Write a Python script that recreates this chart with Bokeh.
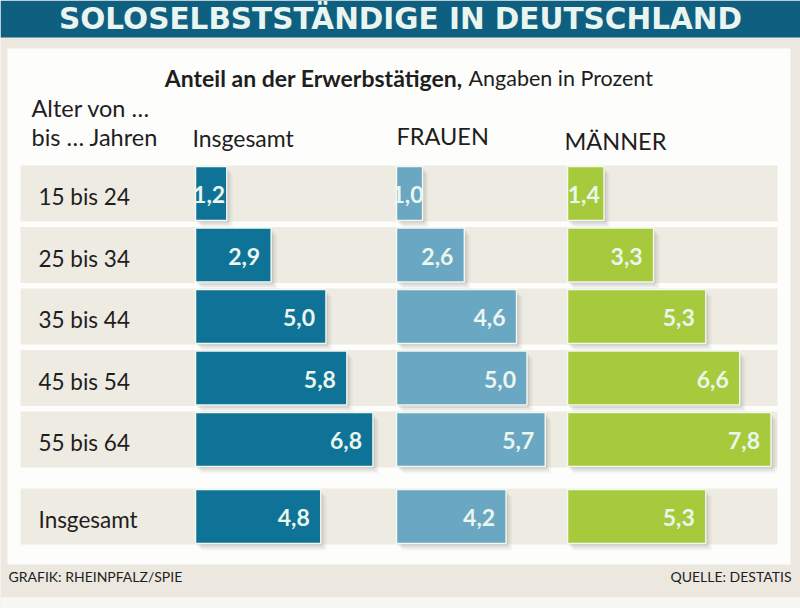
from bokeh.plotting import figure
from bokeh.models import Range1d
from bokeh.core.properties import value
from bokeh.embed import file_html
from bokeh.resources import INLINE

# --- data: share of solo self-employed among all employed persons, in percent ---
age_groups = ["15 bis 24", "25 bis 34", "35 bis 44", "45 bis 54", "55 bis 64", "Insgesamt"]
insgesamt = [1.2, 2.9, 5.0, 5.8, 6.8, 4.8]
frauen = [1.0, 2.6, 4.6, 5.0, 5.7, 4.2]
maenner = [1.4, 3.3, 5.3, 6.6, 7.8, 5.3]
series_names = ["Insgesamt", "FRAUEN", "MÄNNER"]
series_values = [insgesamt, frauen, maenner]

title_text = "SOLOSELBSTSTÄNDIGE IN DEUTSCHLAND"
subtitle_bold = "Anteil an der Erwerbstätigen,"
subtitle_regular = "Angaben in Prozent"
row_header = ["Alter von …", "bis … Jahren"]
credit_left = "GRAFIK: RHEINPFALZ/SPIE"
credit_right = "QUELLE: DESTATIS"

# --- layout ---
W, H = 800, 608
PX_PER_PCT = 26.1          # horizontal scale: pixels per percentage point
X0_PX = 195                # where the first column's bars start


def ux(px):
    """Convert a horizontal pixel position into percentage-point data units."""
    return (px - X0_PX) / PX_PER_PCT


def base(y_px, size):
    """Anchor y for a text whose baseline should sit at y_px (svg text offset)."""
    return y_px - 0.43 * size


col_starts = [ux(195), ux(396), ux(567)]
bar_colors = ["#0f7398", "#6aa7c2", "#a7ca3c"]
row_centers = [193, 254.5, 316, 377.5, 439, 516]
BAND_H = 56
BAR_H = 54

SANS = value("Lato")
INK = "#1e1e1e"
BEIGE = "#ece8df"

p = figure(width=W, height=H, output_backend="svg", toolbar_location=None,
           x_range=Range1d(ux(0), ux(W)), y_range=Range1d(H, 0),
           min_border=0, outline_line_color=None,
           background_fill_color=BEIGE, border_fill_color=BEIGE)
p.axis.visible = False
p.grid.visible = False

# page structure: title bar, white panel, credit strip
p.quad(left=[ux(0)], right=[ux(W)], top=[0], bottom=[37], fill_color="#0f5f80", line_color=None)
p.quad(left=[ux(7)], right=[ux(790)], top=[48], bottom=[564], fill_color="#fdfdfb", line_color=None)
p.quad(left=[ux(0)], right=[ux(W)], top=[597], bottom=[H], fill_color="#f8f7f3", line_color=None)

# row bands
p.quad(left=[ux(20)] * len(row_centers), right=[ux(777)] * len(row_centers),
       top=[c - BAND_H / 2 for c in row_centers], bottom=[c + BAND_H / 2 for c in row_centers],
       fill_color="#eeebe2", line_color=None)

# bars with a soft drop shadow and a thin light rim
VAL_SIZE = 23
for start, vals, color in zip(col_starts, series_values, bar_colors):
    lefts = [start] * len(vals)
    rights = [start + v for v in vals]
    for dx, dy, a in [(1, 1, 0.10), (2, 3, 0.09), (4, 5, 0.07), (6, 7, 0.04)]:
        p.quad(left=[l + dx / PX_PER_PCT for l in lefts],
               right=[r + dx / PX_PER_PCT for r in rights],
               top=[c - BAR_H / 2 + dy for c in row_centers],
               bottom=[c + BAR_H / 2 + dy for c in row_centers],
               fill_color="#3c3c3c", fill_alpha=a, line_color=None)
    p.quad(left=lefts, right=rights,
           top=[c - BAR_H / 2 for c in row_centers],
           bottom=[c + BAR_H / 2 for c in row_centers],
           fill_color=color, line_color="#f3f8f1", line_width=1.5)

    # value labels, right-aligned inside the bar (roughly centred in short bars)
    xs = []
    for v in vals:
        w_px = v * PX_PER_PCT
        pad = min(11, (w_px - 30) / 2 + 1)
        xs.append(start + v - pad / PX_PER_PCT)
    p.text(x=xs, y=[base(c + 11, VAL_SIZE) for c in row_centers],
           text=[f"{v:.1f}".replace(".", ",") for v in vals],
           text_font=SANS, text_font_style="bold", text_font_size=f"{VAL_SIZE}px",
           text_color="#eaf6ee", text_align="right", text_baseline="alphabetic")

# row labels
p.text(x=[ux(38)] * len(age_groups), y=[base(c + 13, 22.5) for c in row_centers], text=age_groups,
       text_font=SANS, text_font_size="22.5px", text_color=INK,
       text_align="left", text_baseline="alphabetic")

# column headers
p.text(x=[ux(31), ux(31)], y=[base(118, 23.5), base(147, 23.5)], text=row_header,
       text_font=SANS, text_font_size="23.5px", text_color=INK, text_baseline="alphabetic")
p.text(x=[ux(192)], y=[base(147, 23)], text=[series_names[0]],
       text_font=SANS, text_font_size="23px", text_color=INK, text_baseline="alphabetic")
p.text(x=[ux(396), ux(564)], y=[base(146, 23.5), base(151, 23.5)], text=series_names[1:],
       text_font=SANS, text_font_size="23.5px", text_color=INK, text_baseline="alphabetic")

# title and subtitle
p.text(x=[ux(400)], y=[base(31, 29.5)], text=[title_text],
       text_font=value("DejaVu Sans"), text_font_style="bold", text_font_size="29.5px",
       text_color="#eaf5f0", text_align="center", text_baseline="alphabetic")
p.text(x=[ux(462)], y=[base(87, 23)], text=[subtitle_bold],
       text_font=SANS, text_font_style="bold", text_font_size="23px",
       text_color=INK, text_align="right", text_baseline="alphabetic")
p.text(x=[ux(468)], y=[base(87, 23)], text=[subtitle_regular],
       text_font=SANS, text_font_size="21.5px",
       text_color=INK, text_align="left", text_baseline="alphabetic")

# credits
p.text(x=[ux(8)], y=[base(582, 14)], text=[credit_left],
       text_font=SANS, text_font_size="14px", text_color=INK,
       text_align="left", text_baseline="alphabetic")
p.text(x=[ux(791)], y=[base(582, 14)], text=[credit_right],
       text_font=SANS, text_font_size="14px", text_color=INK,
       text_align="right", text_baseline="alphabetic")

open("out.html", "w").write(file_html(p, INLINE))
